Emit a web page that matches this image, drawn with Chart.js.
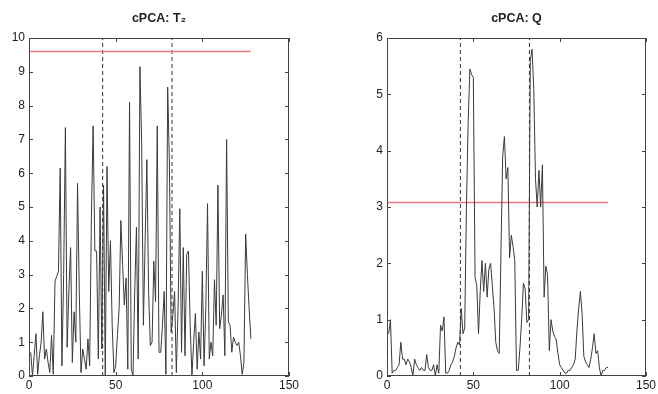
<!DOCTYPE html>
<html>
<head>
<meta charset="utf-8">
<script src="https://cdn.jsdelivr.net/npm/chart.js@4.4.1/dist/chart.umd.min.js"></script>
<style>
  body { margin: 0; background: #fff; }
  #wrap { position: relative; width: 658px; height: 394px; }
  canvas { position: absolute; top: 0; }
</style>
</head>
<body>
<div id="wrap">
  <canvas id="graficoT2" width="329" height="394" style="left:0px"></canvas>
  <canvas id="graficoQ" width="300" height="394" style="left:358px"></canvas>
</div>
<script>
// Valores (amostras 1..128)
const valoresT2 = [
  0.7, 0.0, 0.6, 1.25, 0.05, 0.6, 1.0, 1.9, 0.5, 0.8,
  0.4, 0.1, 1.2, 0.05, 2.8, 2.95, 3.1, 6.15, 0.3, 3.0,
  7.35, 0.85, 2.5, 3.8, 0.4, 1.9, 1.0, 5.7, 2.5, 0.1,
  0.8, 0.5, 0.2, 1.1, 0.3, 4.7, 7.4, 3.7, 3.7, 0.5,
  5.0, 0.8, 5.65, 0.0, 6.2, 2.5, 4.0, 1.5, 0.1, 0.3,
  1.2, 2.0, 4.6, 3.3, 2.1, 2.9, 0.2, 8.1, 0.2, 0.0,
  2.5, 4.4, 0.5, 9.15, 6.9, 1.5, 4.0, 6.4, 2.5, 0.9,
  1.0, 3.4, 2.2, 7.4, 0.7, 0.7, 1.5, 2.5, 0.05, 8.55,
  6.3, 1.3, 1.8, 2.5, 0.1, 2.0, 4.95, 0.7, 3.8, 0.6,
  3.6, 3.7, 1.5, 0.0, 1.0, 1.85, 0.2, 1.3, 0.5, 3.1,
  0.3, 2.0, 5.1, 0.5, 1.0, 0.6, 2.85, 1.5, 5.65, 1.4,
  1.8, 2.4, 0.6, 7.0, 1.6, 1.5, 0.7, 1.15, 1.0, 0.9,
  1.0, 0.6, 0.05, 0.4, 4.2, 3.0, 2.0, 1.1
];

const valoresQ = [
  0.75, 1.0, 0.05, 0.1, 0.1, 0.15, 0.2, 0.6, 0.3, 0.3,
  0.2, 0.3, 0.25, 0.15, 0.0, 0.3, 0.2, 0.15, 0.1, 0.15,
  0.1, 0.1, 0.38, 0.15, 0.1, 0.1, 0.2, 0.0, 0.2, 0.05,
  0.9, 0.8, 1.05, 0.05, 0.05, 0.1, 0.2, 0.25, 0.35, 0.5,
  0.6, 0.55, 1.2, 0.75, 0.85, 3.0, 4.5, 5.45, 5.35, 5.3,
  1.75, 1.6, 0.75, 1.5, 2.05, 1.5, 2.0, 1.4, 1.9, 2.0,
  1.6, 1.2, 0.6, 0.45, 0.4, 2.2, 3.9, 4.25, 3.5, 3.7,
  2.1, 2.5, 2.3, 2.05, 0.1, 0.1, 0.5, 1.0, 1.65, 1.55,
  0.95, 1.0, 5.6, 5.8, 5.1, 3.5, 3.0, 3.65, 3.0, 3.75,
  1.4, 1.95, 1.8, 0.45, 1.0, 0.8, 0.7, 0.65, 0.4, 0.2,
  0.15, 0.1, 0.05, 0.05, 0.1, 0.1, 0.15, 0.2, 0.3, 0.8,
  1.2, 1.5, 1.1, 0.35, 0.25, 0.2, 0.15, 0.3, 0.5, 0.75,
  0.4, 0.45, 0.15, 0.0, 0.1, 0.1, 0.15, 0.15
];

const limiteT2 = 9.6;   // linha vermelha
const limiteQ = 3.08;
const fimLimite = 128;  // até onde vai a linha vermelha
const quebras = [42.5, 82.5]; // linhas tracejadas
const ticksX = [0, 50, 100, 150];

// pontos {x, y} a partir do número da amostra
function pontos(valores) {
  return valores.map((v, i) => ({ x: i + 1, y: v }));
}

// caixa e tiquinhos pra dentro, estilo MATLAB
const caixaMatlab = {
  id: 'caixaMatlab',
  afterDraw(chart) {
    const { ctx, chartArea: a, scales: { x, y } } = chart;
    ctx.save();
    ctx.strokeStyle = '#444';
    ctx.lineWidth = 1;
    ctx.strokeRect(Math.round(a.left) + 0.5, Math.round(a.top) + 0.5,
      Math.round(a.width) - 1, Math.round(a.height) - 1);
    ctx.beginPath();
    x.ticks.forEach(t => {
      const px = Math.round(x.getPixelForValue(t.value)) + 0.5;
      ctx.moveTo(px, a.bottom); ctx.lineTo(px, a.bottom - 4);
      ctx.moveTo(px, a.top); ctx.lineTo(px, a.top + 4);
    });
    y.ticks.forEach(t => {
      const py = Math.round(y.getPixelForValue(t.value)) + 0.5;
      ctx.moveTo(a.left, py); ctx.lineTo(a.left + 4, py);
      ctx.moveTo(a.right, py); ctx.lineTo(a.right - 4, py);
    });
    ctx.stroke();
    ctx.restore();
  }
};

const fonte = { family: 'Liberation Sans, Arial, sans-serif', size: 12 };
const fonteTitulo = { family: 'Liberation Sans, Arial, sans-serif', size: 12.5, weight: 'bold' };

function montarGrafico(id, titulo, valores, limite, yMax, padDireita) {
  const datasets = [
    {
      data: pontos(valores),
      borderColor: '#3a3a3a',
      borderWidth: 1,
      pointRadius: 0,
      tension: 0
    },
    {
      data: [{ x: 0, y: limite }, { x: fimLimite, y: limite }],
      borderColor: '#f07886',
      borderWidth: 1.6,
      pointRadius: 0
    }
  ];
  quebras.forEach(q => {
    datasets.push({
      data: [{ x: q, y: 0 }, { x: q, y: yMax }],
      borderColor: '#333',
      borderWidth: 1,
      borderDash: [4, 3],
      pointRadius: 0
    });
  });

  return new Chart(document.getElementById(id).getContext('2d'), {
    type: 'line',
    data: { datasets: datasets },
    options: {
      responsive: false,
      animation: false,
      layout: { padding: { left: 0, right: padDireita, top: 0, bottom: 0 } },
      plugins: {
        legend: { display: false },
        tooltip: { enabled: false },
        title: {
          display: true,
          text: titulo,
          fullSize: false,
          color: '#222',
          font: fonteTitulo,
          padding: { top: 11, bottom: 12 }
        }
      },
      scales: {
        x: {
          type: 'linear',
          min: 0,
          max: 150,
          grid: { display: false, drawTicks: false, tickLength: 0 },
          border: { display: false },
          afterBuildTicks: s => { s.ticks = ticksX.map(v => ({ value: v })); },
          afterFit: s => { s.height = 18; },
          ticks: { color: '#222', font: fonte, padding: 2, maxRotation: 0 }
        },
        y: {
          min: 0,
          max: yMax,
          grid: { display: false, drawTicks: false, tickLength: 0 },
          border: { display: false },
          afterFit: s => { s.width = 29; },
          ticks: { stepSize: 1, color: '#222', font: fonte, padding: 4 }
        }
      }
    },
    plugins: [caixaMatlab]
  });
}

// Gráfico T2
montarGrafico('graficoT2', 'cPCA: T\u2082', valoresT2, limiteT2, 10, 40);

// Gráfico Q
montarGrafico('graficoQ', 'cPCA: Q', valoresQ, limiteQ, 6, 11);
</script>
</body>
</html>
